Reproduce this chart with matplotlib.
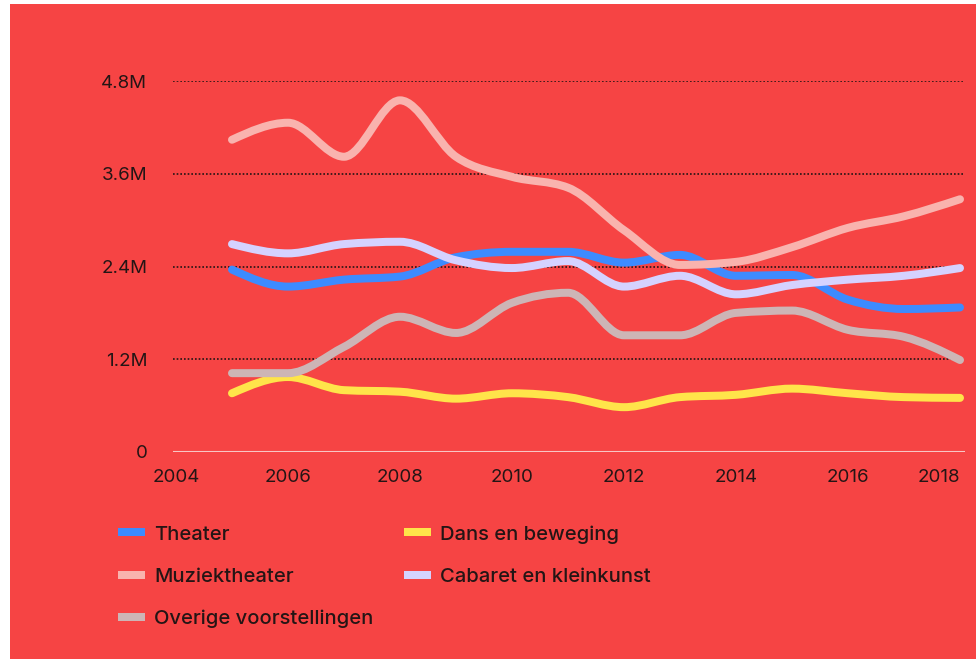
import numpy as np
import matplotlib.pyplot as plt
from matplotlib.path import Path
from matplotlib.patches import PathPatch, Rectangle
from matplotlib.lines import Line2D

years = [2005, 2006, 2007, 2008, 2009, 2010, 2011, 2012, 2013, 2014, 2015, 2016, 2017, 2018]

theater = [2.36, 2.14, 2.23, 2.27, 2.52, 2.59, 2.59, 2.45, 2.55, 2.28, 2.29, 1.97, 1.85, 1.87]
dans = [0.76, 0.97, 0.80, 0.78, 0.69, 0.76, 0.71, 0.58, 0.71, 0.74, 0.82, 0.76, 0.71, 0.70]
muziek = [4.04, 4.26, 3.82, 4.55, 3.82, 3.56, 3.42, 2.87, 2.42, 2.46, 2.65, 2.90, 3.05, 3.27]
cabaret = [2.69, 2.57, 2.69, 2.72, 2.48, 2.38, 2.47, 2.14, 2.28, 2.04, 2.16, 2.23, 2.28, 2.38]
overige = [1.02, 1.02, 1.36, 1.75, 1.54, 1.93, 2.06, 1.51, 1.51, 1.80, 1.83, 1.58, 1.49, 1.19]

names = ['Theater', 'Dans en beweging', 'Muziektheater', 'Cabaret en kleinkunst', 'Overige voorstellingen']
colors = ['#3d8bff', '#ffe44a', '#f9b3ae', '#d5d2ff', '#cdb5b6']
series = [theater, dans, muziek, cabaret, overige]

ytick_vals = [0, 1.2, 2.4, 3.6, 4.8]
ytick_labels = ['0', '1.2M', '2.4M', '3.6M', '4.8M']
xtick_vals = [2004, 2006, 2008, 2010, 2012, 2014, 2016, 2018]

RED = '#f64444'
INK = '#241515'


def monotone_path(x, y):
    # bezier path like d3.curveMonotoneX
    x = np.asarray(x, float)
    y = np.asarray(y, float)
    n = len(x)
    h = np.diff(x)
    s = np.diff(y) / h
    t = np.zeros(n)
    for i in range(1, n - 1):
        p = (s[i - 1] * h[i] + s[i] * h[i - 1]) / (h[i - 1] + h[i])
        t[i] = (np.sign(s[i - 1]) + np.sign(s[i])) * min(abs(s[i - 1]), abs(s[i]), 0.5 * abs(p))
    t[0] = (3 * s[0] - t[1]) / 2
    t[-1] = (3 * s[-1] - t[-2]) / 2
    verts = [(x[0], y[0])]
    codes = [Path.MOVETO]
    for i in range(n - 1):
        d = h[i] / 3
        verts += [(x[i] + d, y[i] + d * t[i]), (x[i + 1] - d, y[i + 1] - d * t[i + 1]), (x[i + 1], y[i + 1])]
        codes += [Path.CURVE4] * 3
    return Path(verts, codes)


fig = plt.figure(figsize=(9.76, 6.59), dpi=100, facecolor='white')
fig.patches.append(Rectangle((10 / 976, 0), 1, (659 - 4) / 659, transform=fig.transFigure,
                             facecolor=RED, edgecolor='none', zorder=-5))

ax = fig.add_axes([173 / 976, 207 / 659, (965 - 173) / 976, (452 - 81) / 659])
ax.set_facecolor('none')
ax.set_xlim(2004 - 3 / 56, 2018 + 5 / 56)
ax.set_ylim(0, 4.8)

for v in ytick_vals[1:]:
    ax.axhline(v, color=INK, lw=1.2, ls=(0, (1, 1.2)), zorder=1)
ax.axhline(0, color='#f8c6c4', lw=1.5, zorder=1)

lw = 8 * 72 / 100
for vals, c in zip(series, colors):
    patch = PathPatch(monotone_path(years, vals), facecolor='none', edgecolor=c,
                      lw=lw, capstyle='round', joinstyle='round', zorder=3, clip_on=False)
    ax.add_patch(patch)

for sp in ax.spines.values():
    sp.set_visible(False)

ax.set_yticks(ytick_vals)
ax.set_yticklabels(ytick_labels)
ax.set_xticks(xtick_vals)
ax.set_xticklabels([str(v) for v in xtick_vals])
ax.tick_params(axis='both', length=0, labelsize=13.5, labelcolor=INK)
ax.tick_params(axis='y', pad=18.5)
ax.tick_params(axis='x', pad=12.5)
for lab in ax.get_yticklabels() + ax.get_xticklabels():
    lab.set_family('Inter')
ax.get_xticklabels()[-1].set_horizontalalignment('right')

# legend filled row by row: col 1 gets first three handles
order = [0, 2, 4, 1, 3]
handles = [Line2D([], [], color=colors[i], lw=lw, solid_capstyle='butt') for i in order]
labels = [names[i] for i in order]
leg = fig.legend(handles, labels, ncol=2, loc='upper left',
                 bbox_to_anchor=(118 / 976, 1 - 525 / 659), frameon=False,
                 prop={'family': 'Inter', 'size': 14.5, 'weight': 'medium'},
                 handlelength=1.35, handletextpad=0.45, labelspacing=1.2,
                 columnspacing=1.5, borderpad=0, borderaxespad=0)
for txt in leg.get_texts():
    txt.set_color(INK)

fig.savefig('out.png', dpi=100, facecolor=fig.get_facecolor())
